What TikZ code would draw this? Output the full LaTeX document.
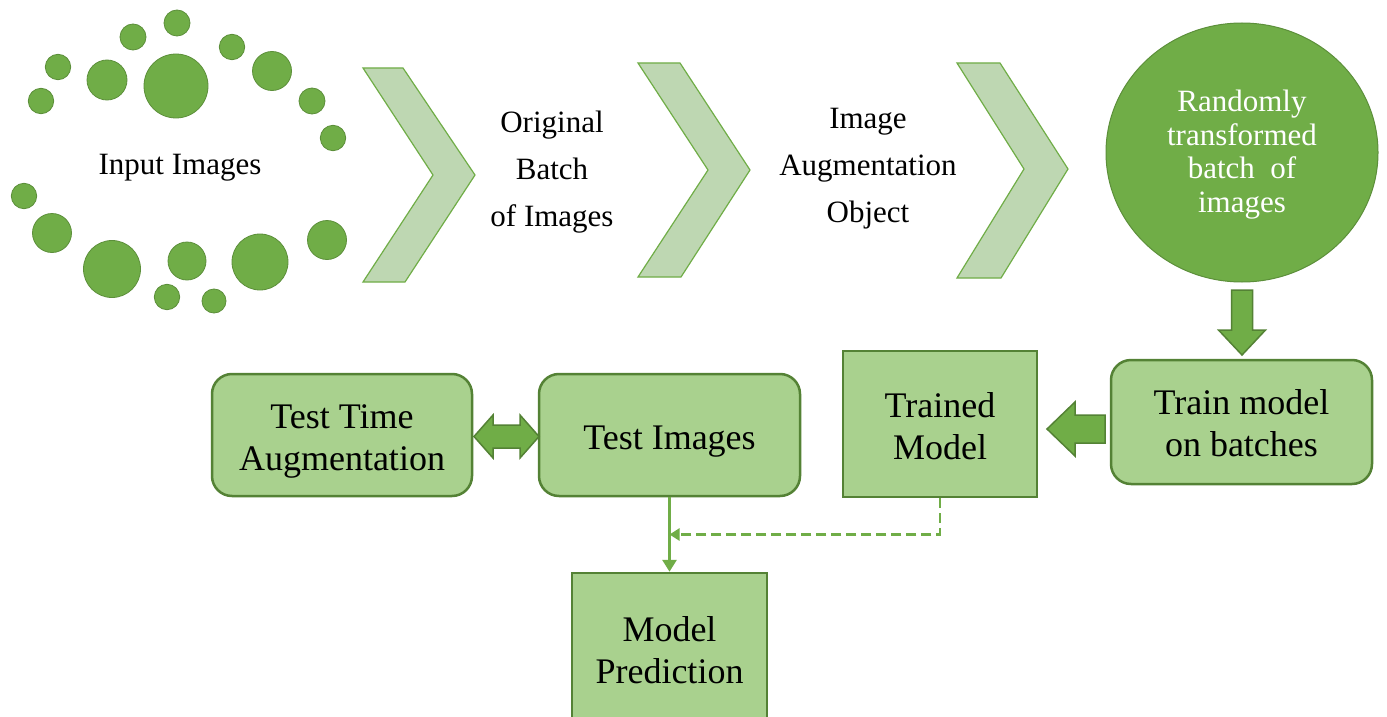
\documentclass[tikz,border=0pt]{standalone}
\usepackage{fontspec}
\setmainfont{Liberation Serif}
\usetikzlibrary{shapes.geometric,arrows.meta,calc}
\definecolor{gmid}{RGB}{112,173,71}
\definecolor{gdark}{RGB}{84,130,53}
\definecolor{glight}{RGB}{169,209,142}
\definecolor{gchev}{RGB}{190,215,178}
\begin{document}
\begin{tikzpicture}[x=1pt,y=-1pt,
  dot/.style={fill=gmid,draw=gdark!70!gmid,line width=0.8pt},
  chev/.style={fill=gchev,draw=gmid,line width=1.2pt,line join=miter},
  toplabel/.style={align=center,font=\fontsize{31}{47}\selectfont,inner sep=0pt},
  rbox/.style={draw=gdark,fill=glight,line width=2.5pt,rounded corners=20pt,align=center,font=\fontsize{36}{42}\selectfont,inner sep=0pt},
  sbox/.style={draw=gdark,fill=glight,line width=2.5pt,align=center,font=\fontsize{36}{42}\selectfont,inner sep=0pt},
  blockarrow/.style={fill=gmid,draw=gdark,line width=1.5pt,line join=miter},
  link/.style={draw=gmid,line width=3pt,-{Triangle[length=12pt,width=14pt]}},
  dlink/.style={draw=gmid,line width=2.8pt,dash pattern=on 10pt off 5pt,-{Triangle[length=10pt,width=12pt]}}
]
\path[use as bounding box,clip] (0,0) rectangle (1387,717);
\fill[white] (0,0) rectangle (1387,717);

% dots around "Input Images"
\foreach \cx/\cy/\r in {58/67/12.7, 41/101/12.7, 107/80/20, 133/37/13, 177/23/13,
  176/86/32, 232/47/12.7, 272/71/19.5, 312/101/13, 333/138/12.7, 24/196/12.7,
  52/233/19.5, 112/269/28.5, 187/261/19, 167/297/12.7, 214/301/12, 260/262/28,
  327/240/19.5}
  \draw[dot] (\cx,\cy) circle[radius=\r pt];

\node[toplabel] (II) at (180,168) {Input Images};

% chevrons
\draw[chev] (363,68) -- (403,68) -- (475,175) -- (405,282) -- (363,282) -- (433,175) -- cycle;
\draw[chev] (638,63) -- (680,63) -- (750,170) -- (681,277) -- (638,277) -- (708,170) -- cycle;
\draw[chev] (957,63) -- (1000,63) -- (1068,169) -- (1001,278) -- (957,278) -- (1024,169) -- cycle;

\node[toplabel] (OB) at (552,172) {Original\\Batch\\of Images};
\node[toplabel] (IA) at (868,169) {Image\\Augmentation\\Object};

\node[ellipse,fill=gmid,draw=gdark!70!gmid,line width=1pt,minimum width=272pt,minimum height=259pt,
  inner sep=0pt,align=center,text=white,font=\fontsize{31}{33.5}\selectfont] (RT) at (1242,152.5)
  {\rule{0pt}{26pt}Randomly\\transformed\\batch\ \ of\\images};

% boxes
\node[rbox,minimum width=260pt,minimum height=122pt] (TTA) at (342,435) {\rule{0pt}{37pt}Test Time\\Augmentation};
\node[rbox,minimum width=261pt,minimum height=122pt] (TI) at (669.5,435) {\rule{0pt}{36pt}Test Images};
\node[sbox,minimum width=194pt,minimum height=146pt] (TM) at (940,424) {\rule{0pt}{29pt}Trained\\Model};
\node[rbox,minimum width=261pt,minimum height=124pt] (TMB) at (1241.5,422) {\rule{0pt}{27pt}Train model\\on batches};
\node[sbox,minimum width=195pt,minimum height=160pt] (MP) at (669.5,653) {Model\\Prediction\rule[-6pt]{0pt}{6pt}};

% block arrows
\draw[blockarrow] (1231.5,290) -- (1252.5,290) -- (1252.5,330) -- (1265.5,330) -- (1242,355)
  -- (1218.5,330) -- (1231.5,330) -- cycle;
\draw[blockarrow] (1105,415) -- (1075,415) -- (1075,402) -- (1047,429) -- (1075,456)
  -- (1075,443) -- (1105,443) -- cycle;
\draw[blockarrow] (474,436.5) -- (493,415) -- (493,425) -- (520,425) -- (520,415) -- (539,436.5)
  -- (520,458) -- (520,448) -- (493,448) -- (493,458) -- cycle;

% connectors
\coordinate (J) at ($(TI.south)!0.5!(MP.north)$);
\draw[link] (TI.south) -- (MP.north);
\draw[dlink] (TM.south) |- (J);
\end{tikzpicture}
\end{document}
